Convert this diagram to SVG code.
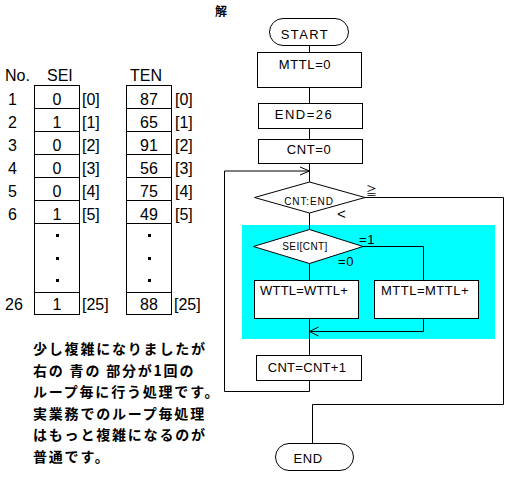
<svg xmlns="http://www.w3.org/2000/svg" width="507" height="479" viewBox="0 0 507 479">
<style>
.t{font-family:"Liberation Sans",Arial,sans-serif;fill:#000}
.tb{font-size:16px}
.fc{font-size:13px;letter-spacing:0.6px}
.sm{font-size:10px;letter-spacing:0.4px}
.jp{font-family:"Noto Sans CJK JP",sans-serif;font-weight:bold;font-size:14px;letter-spacing:1.8px;fill:#000}
.box{fill:#fff;stroke:#000;stroke-width:1}
.ln{fill:none;stroke:#000;stroke-width:1}
</style>
<rect width="507" height="479" fill="#fff"/>
<text x="215" y="16" style="font-family:'Noto Sans CJK JP',sans-serif;font-weight:bold;font-size:12px">解</text>

<g id="table">
<text class="t tb" x="5" y="81">No.</text>
<text class="t tb" x="47" y="81">SEI</text>
<text class="t tb" x="130" y="81">TEN</text>
<g id="sei-col">
<rect class="box" x="34.5" y="85.5" width="45" height="229"/>
<path class="ln" d="M34.5 108.5H79.5M34.5 131.5H79.5M34.5 154.5H79.5M34.5 177.5H79.5M34.5 200.5H79.5M34.5 223.5H79.5M34.5 292.5H79.5"/>
</g>
<g id="ten-col">
<rect class="box" x="126.5" y="85.5" width="45" height="229"/>
<path class="ln" d="M126.5 108.5H171.5M126.5 131.5H171.5M126.5 154.5H171.5M126.5 177.5H171.5M126.5 200.5H171.5M126.5 223.5H171.5M126.5 292.5H171.5"/>
</g>
<g class="t tb">
<text x="8" y="105">1</text><text x="8" y="128">2</text><text x="8" y="151">3</text><text x="8" y="174">4</text><text x="8" y="197">5</text><text x="8" y="220">6</text><text x="5" y="310">26</text>
</g>
<g class="t tb" text-anchor="middle">
<text x="57" y="105">0</text><text x="57" y="128">1</text><text x="57" y="151">0</text><text x="57" y="174">0</text><text x="57" y="197">0</text><text x="57" y="220">1</text><text x="57" y="310">1</text>
<text x="149" y="105">87</text><text x="149" y="128">65</text><text x="149" y="151">91</text><text x="149" y="174">56</text><text x="149" y="197">75</text><text x="149" y="220">49</text><text x="149" y="310">88</text>
</g>
<g class="t tb">
<text x="82" y="105">[0]</text><text x="82" y="128">[1]</text><text x="82" y="151">[2]</text><text x="82" y="174">[3]</text><text x="82" y="197">[4]</text><text x="82" y="220">[5]</text><text x="82" y="310">[25]</text>
<text x="175" y="105">[0]</text><text x="175" y="128">[1]</text><text x="175" y="151">[2]</text><text x="175" y="174">[3]</text><text x="175" y="197">[4]</text><text x="175" y="220">[5]</text><text x="174" y="310">[25]</text>
</g>
<g fill="#000">
<rect x="56" y="234" width="3" height="3"/><rect x="56" y="257" width="3" height="3"/><rect x="56" y="279" width="3" height="3"/>
<rect x="148" y="234" width="3" height="3"/><rect x="148" y="257" width="3" height="3"/><rect x="148" y="279" width="3" height="3"/>
</g>
</g>

<g id="note">
<text class="jp" x="33" y="354">少し複雑になりましたが</text>
<text class="jp" x="33" y="376">右の 青の 部分が1回の</text>
<text class="jp" x="33" y="397">ループ毎に行う処理です。</text>
<text class="jp" x="33" y="419">実業務でのループ毎処理</text>
<text class="jp" x="33" y="440">はもっと複雑になるのが</text>
<text class="jp" x="33" y="462">普通です。</text>
</g>

<rect id="loop-body" x="242" y="225" width="253" height="114" fill="#00ffff"/>

<g id="connectors">
<path class="ln" d="M309.5 45V52M309.5 87V103M309.5 128V139M309.5 163V182"/>
<path class="ln" d="M309.5 391.5H224.5V171H309.5"/>
<path class="ln" d="M300 167L309.5 171L300 175"/>
<path class="ln" d="M365 197.5H503.5V404.5H312.5V443"/>
<path class="ln" d="M309.5 213V229"/>
<path class="ln" d="M363 246.5H423.5V280"/>
<path class="ln" d="M309.5 263V280"/>
<path class="ln" d="M423.5 319V331.5H309.5"/>
<path class="ln" d="M318.5 327L309.5 331.5L318.5 336"/>
<path class="ln" d="M309.5 318V355M309.5 380V391.5"/>
</g>

<g id="start"><rect class="box" x="269.5" y="18.5" width="79" height="27" rx="13.5"/><text class="t fc" x="305" y="39" text-anchor="middle" style="letter-spacing:1.4px">START</text></g>
<g id="mttl0"><rect class="box" x="257.5" y="52.5" width="104" height="35"/><text class="t fc" x="305" y="69" text-anchor="middle">MTTL=0</text></g>
<g id="end26"><rect class="box" x="258.5" y="103.5" width="104" height="25"/><text class="t fc" x="304" y="119" text-anchor="middle" style="letter-spacing:1.5px">END=26</text></g>
<g id="cnt0"><rect class="box" x="258.5" y="139.5" width="104" height="24"/><text class="t fc" x="309" y="154" text-anchor="middle">CNT=0</text></g>
<g id="cond-end"><polygon class="box" points="309.5,182 365,197.5 309.5,213 254.5,197.5"/><text class="t sm" x="309" y="205" text-anchor="middle" style="letter-spacing:0.9px">CNT:END</text>
<text x="366" y="195" style="font-family:'Noto Sans CJK JP',sans-serif;font-size:11px">≧</text>
<text class="t" x="337" y="219" style="font-size:15px">&lt;</text></g>
<g id="cond-sei"><polygon class="box" points="309.5,229.5 363,246.5 309.5,263.5 253.5,246.5"/><text class="t sm" x="305" y="250" text-anchor="middle">SEI[CNT]</text>
<text class="t fc" x="359" y="243.5">=1</text>
<text class="t fc" x="338" y="265.5">=0</text></g>
<g id="wttl"><rect class="box" x="254.5" y="280.5" width="104" height="38"/><text class="t fc" x="304" y="295" text-anchor="middle" style="letter-spacing:0.2px">WTTL=WTTL+</text></g>
<g id="mttl"><rect class="box" x="374.5" y="280.5" width="104" height="38"/><text class="t fc" x="425" y="295" text-anchor="middle" style="letter-spacing:0.5px">MTTL=MTTL+</text></g>
<g id="cntinc"><rect class="box" x="256.5" y="355.5" width="105" height="25"/><text class="t fc" x="307" y="372" text-anchor="middle" style="letter-spacing:0.3px">CNT=CNT+1</text></g>
<g id="end"><rect class="box" x="275.5" y="443.5" width="78" height="27" rx="13.5"/><text class="t fc" x="308" y="463" text-anchor="middle">END</text></g>
</svg>
